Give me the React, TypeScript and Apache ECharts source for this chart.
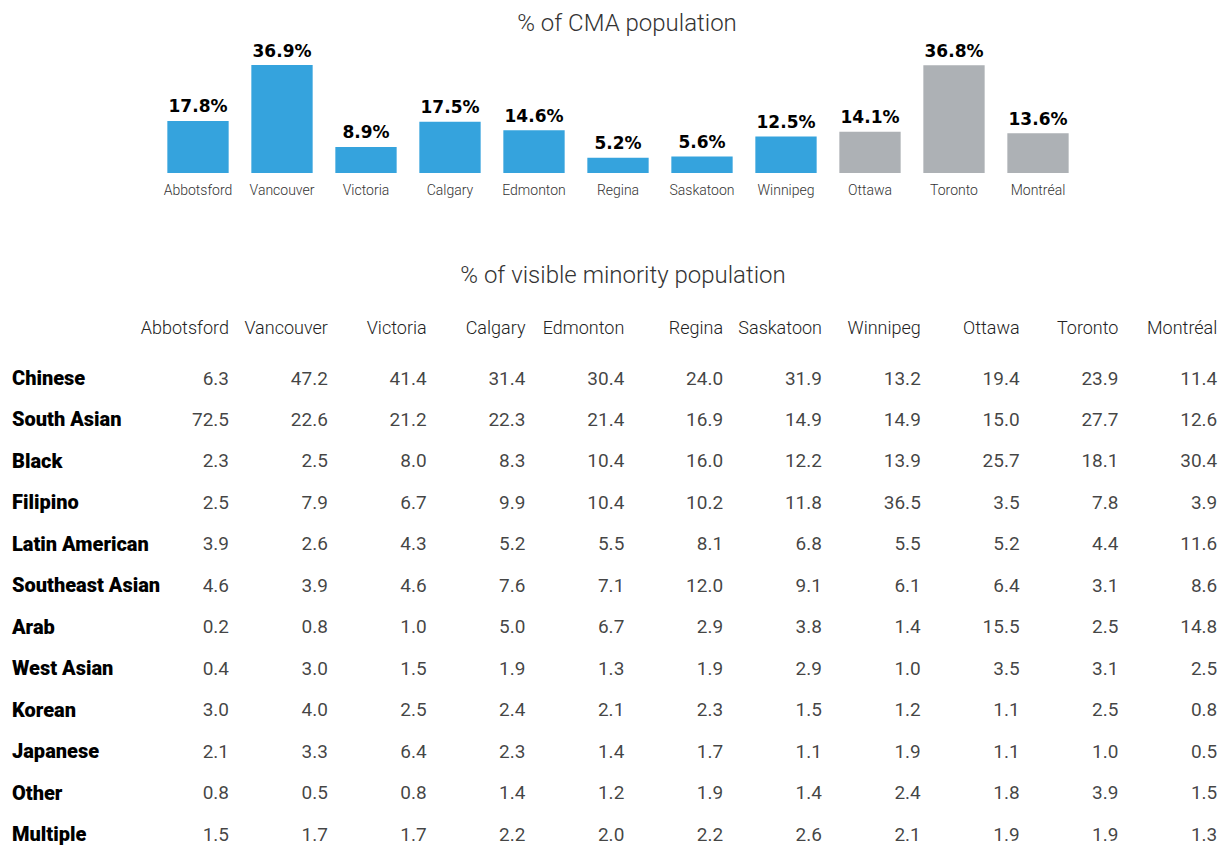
import React, { useEffect, useRef } from "react";
import * as echarts from "echarts";

const cities = ["Abbotsford", "Vancouver", "Victoria", "Calgary", "Edmonton", "Regina", "Saskatoon", "Winnipeg", "Ottawa", "Toronto", "Montréal"];
const westernCities = ["Abbotsford", "Vancouver", "Victoria", "Calgary", "Edmonton", "Regina", "Saskatoon", "Winnipeg"];
const cmaShare = [17.8, 36.9, 8.9, 17.5, 14.6, 5.2, 5.6, 12.5, 14.1, 36.8, 13.6];

const groups = ["Chinese", "South Asian", "Black", "Filipino", "Latin American", "Southeast Asian", "Arab", "West Asian", "Korean", "Japanese", "Other", "Multiple"];
const chinese = [6.3, 47.2, 41.4, 31.4, 30.4, 24.0, 31.9, 13.2, 19.4, 23.9, 11.4];
const southAsian = [72.5, 22.6, 21.2, 22.3, 21.4, 16.9, 14.9, 14.9, 15.0, 27.7, 12.6];
const black = [2.3, 2.5, 8.0, 8.3, 10.4, 16.0, 12.2, 13.9, 25.7, 18.1, 30.4];
const filipino = [2.5, 7.9, 6.7, 9.9, 10.4, 10.2, 11.8, 36.5, 3.5, 7.8, 3.9];
const latinAmerican = [3.9, 2.6, 4.3, 5.2, 5.5, 8.1, 6.8, 5.5, 5.2, 4.4, 11.6];
const southeastAsian = [4.6, 3.9, 4.6, 7.6, 7.1, 12.0, 9.1, 6.1, 6.4, 3.1, 8.6];
const arab = [0.2, 0.8, 1.0, 5.0, 6.7, 2.9, 3.8, 1.4, 15.5, 2.5, 14.8];
const westAsian = [0.4, 3.0, 1.5, 1.9, 1.3, 1.9, 2.9, 1.0, 3.5, 3.1, 2.5];
const korean = [3.0, 4.0, 2.5, 2.4, 2.1, 2.3, 1.5, 1.2, 1.1, 2.5, 0.8];
const japanese = [2.1, 3.3, 6.4, 2.3, 1.4, 1.7, 1.1, 1.9, 1.1, 1.0, 0.5];
const other = [0.8, 0.5, 0.8, 1.4, 1.2, 1.9, 1.4, 2.4, 1.8, 3.9, 1.5];
const multiple = [1.5, 1.7, 1.7, 2.2, 2.0, 2.2, 2.6, 2.1, 1.9, 1.9, 1.3];
const groupValues = [chinese, southAsian, black, filipino, latinAmerican, southeastAsian, arab, westAsian, korean, japanese, other, multiple];

const BLUE = "#35a3dd";
const GRAY = "#adb1b5";
const TEXT = "#111";
const FONT = "Roboto, 'Liberation Sans', sans-serif";

export default function App() {
  const ref = useRef<HTMLDivElement>(null);
  useEffect(() => {
    document.body.style.margin = "0";
    if (!ref.current) return;
    const chart = echarts.init(ref.current, null, { renderer: "svg" });

    const tableData: any[] = [];
    groups.forEach((g, r) => {
      cities.forEach((c, ci) => {
        tableData.push([c, g, groupValues[r][ci]]);
      });
    });

    const option: any = {
      animation: false,
      backgroundColor: "#fff",
      textStyle: { fontFamily: FONT },
      title: [
        {
          text: "% of CMA population",
          left: 622,
          top: 6,
          textAlign: "center",
          textStyle: { fontFamily: FONT, fontSize: 24, fontWeight: 300, color: "#333" },
        },
        {
          text: "% of visible minority population",
          left: 618,
          top: 258,
          textAlign: "center",
          textStyle: { fontFamily: FONT, fontSize: 24, fontWeight: 300, color: "#333" },
        },
      ],
      grid: [
        { left: 156, right: 147, top: 56, bottom: 673 },
        { left: 229, right: 9.7, top: 378, bottom: 12 },
      ],
      xAxis: [
        {
          type: "category",
          gridIndex: 0,
          data: cities,
          axisLine: { show: false },
          axisTick: { show: false },
          axisLabel: { color: "#333", fontSize: 14, fontFamily: FONT, fontWeight: 300, margin: 10, interval: 0 },
        },
        {
          type: "category",
          gridIndex: 1,
          data: cities,
          position: "top",
          boundaryGap: false,
          axisLine: { show: false },
          axisTick: { show: false },
          splitLine: { show: false },
          axisLabel: { color: "#222", fontSize: 18, fontFamily: FONT, fontWeight: 300, margin: 42, align: "right", interval: 0 },
        },
      ],
      yAxis: [
        {
          type: "value",
          gridIndex: 0,
          min: 0,
          max: 40,
          show: false,
        },
        {
          type: "category",
          gridIndex: 1,
          data: groups,
          inverse: true,
          boundaryGap: false,
          axisLine: { show: false },
          axisTick: { show: false },
          splitLine: { show: false },
          axisLabel: { color: "#000", fontSize: 20, fontFamily: FONT, fontWeight: 900, margin: 217, align: "left", interval: 0 },
        },
      ],
      series: [
        {
          type: "bar",
          xAxisIndex: 0,
          yAxisIndex: 0,
          data: cmaShare,
          barCategoryGap: "27%",
          itemStyle: {
            color: (p: any) => (westernCities.includes(cities[p.dataIndex]) ? BLUE : GRAY),
          },
          label: {
            show: true,
            position: "top",
            distance: 6,
            formatter: (p: any) => p.value.toFixed(1) + "%",
            fontFamily: "'DejaVu Sans', sans-serif",
            fontWeight: "bold",
            fontSize: 17,
            color: "#000",
          },
        },
        {
          type: "scatter",
          xAxisIndex: 1,
          yAxisIndex: 1,
          data: tableData,
          symbolSize: 2,
          itemStyle: { color: "rgba(0,0,0,0)" },
          label: {
            show: true,
            position: "left",
            distance: -1,
            formatter: (p: any) => p.value[2].toFixed(1),
            fontFamily: FONT,
            fontSize: 19,
            color: TEXT,
          },
          emphasis: { disabled: true },
          silent: true,
        },
      ],
    };
    chart.setOption(option);
    return () => chart.dispose();
  }, []);
  return <div ref={ref} style={{ width: 1227, height: 846 }} />;
}
